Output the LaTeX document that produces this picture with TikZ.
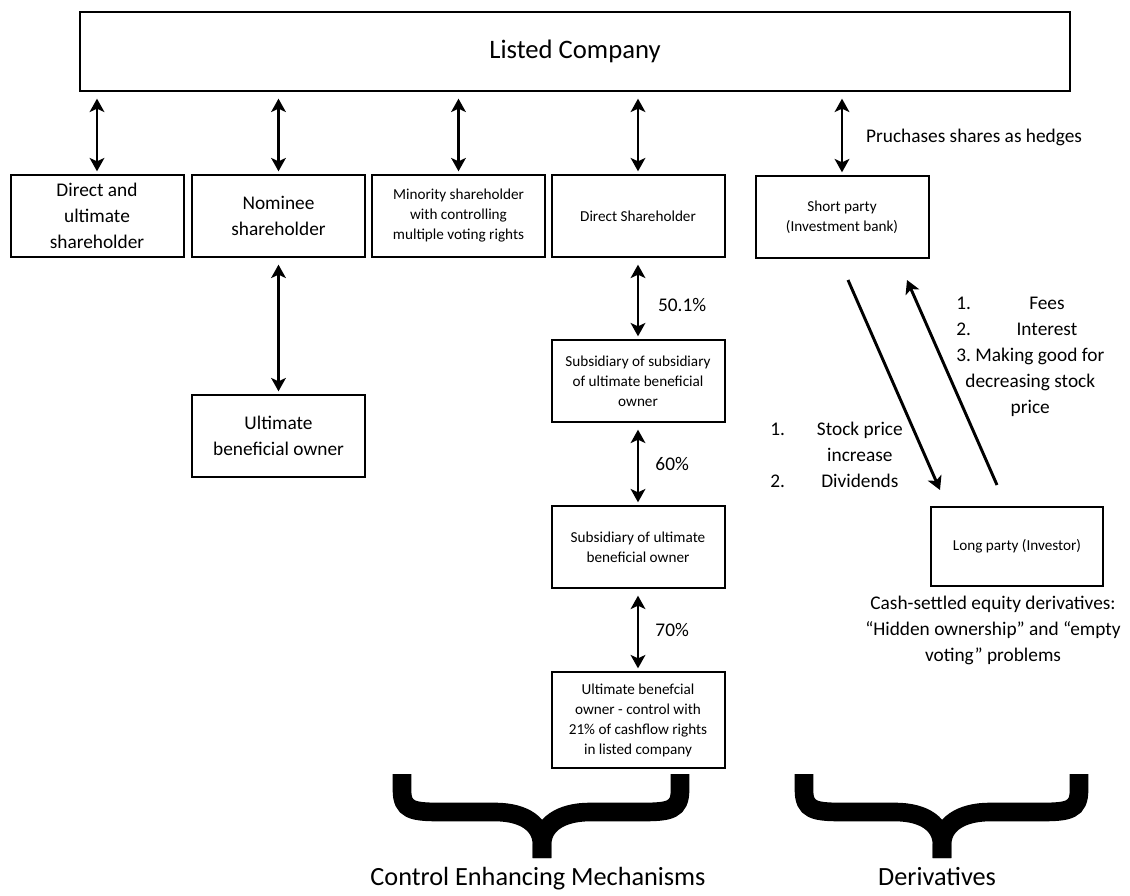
\documentclass[tikz,border=0pt]{standalone}
\usepackage{fontspec}
\setmainfont{Carlito}
\usetikzlibrary{arrows.meta, positioning, calc}

\begin{document}
\begin{tikzpicture}[x=0.75pt, y=-0.75pt,
    box/.style={draw, line width=1.5pt, align=center, inner sep=2pt, minimum width=129.75pt, minimum height=61.5pt},
    bigtxt/.style={font=\fontsize{14.5}{19.5}\selectfont},
    smalltxt/.style={font=\fontsize{11.4}{15}\selectfont},
    lbl/.style={inner sep=0pt, align=center, font=\fontsize{14.5}{19.5}\selectfont},
    dbl/.style={{Stealth[length=10pt, width=11pt, inset=2.5pt]}-{Stealth[length=10pt, width=11pt, inset=2.5pt]}, line width=2.2pt, shorten <=5pt, shorten >=2pt},
    sgl/.style={-{Stealth[length=10pt, width=11pt, inset=2.5pt]}, line width=2.2pt},
    brc/.style={line width=14pt}]

    \useasboundingbox (0,0) rectangle (1130,895);

    % Listed company on top
    \node[box, minimum width=742.5pt, minimum height=59.25pt, font=\fontsize{20}{24}\selectfont] (listed) at (575,51.5) {Listed Company};

    % Row of shareholders
    \node[box, bigtxt] (direct) at (97,216) {Direct and\\ultimate\\shareholder};
    \node[box, bigtxt] (nominee) at (278.5,216) {Nominee\\shareholder};
    \node[box, smalltxt] (minority) at (458.5,216) {Minority shareholder\\with controlling\\multiple voting rights};
    \node[box, smalltxt] (dirshare) at (638,216) {Direct Shareholder};
    \node[box, smalltxt] (short) at (842,217) {Short party\\(Investment bank)};

    % Nominee -> beneficial owner
    \node[box, bigtxt] (ubo) at (278.5,436) {Ultimate\\beneficial owner};

    % Chain of subsidiaries
    \node[box, smalltxt] (subsub) at (638,381) {Subsidiary of subsidiary\\of ultimate beneficial\\owner};
    \node[box, smalltxt] (sub) at (638,547) {Subsidiary of ultimate\\beneficial owner};
    \node[box, smalltxt, minimum height=72pt] (ultimate) at (638,720) {Ultimate benefcial\\owner - control with\\21\% of cashflow rights\\in listed company};

    % Long party of the derivative
    \node[box, smalltxt, minimum width=129pt, minimum height=59.25pt] (long) at (1017,546.5) {Long party (Investor)};

    % Arrows from listed company
    \draw[dbl] (listed.south -| direct.north) -- (direct.north);
    \draw[dbl] (listed.south -| nominee.north) -- (nominee.north);
    \draw[dbl] (listed.south -| minority.north) -- (minority.north);
    \draw[dbl] (listed.south -| dirshare.north) -- (dirshare.north);
    \draw[dbl] (listed.south -| short.north) -- node[lbl, pos=0.55, right=17pt] (hedge) {Pruchases shares as hedges} (short.north);

    \draw[dbl] (nominee.south) -- (ubo.north);

    % Percentages down the chain
    \draw[dbl] (dirshare.south) -- node[lbl, pos=0.58, right=14pt] (p501) {50.1\%} (subsub.north);
    \draw[dbl] (subsub.south) -- node[lbl, right=12pt] (p60) {60\%} (sub.north);
    \draw[dbl] (sub.south) -- node[lbl, right=12pt] (p70) {70\%} (ultimate.north);

    % Flows between short and long party
    \coordinate (payout) at (848,280);
    \coordinate (payin) at (940,490);
    \coordinate (feeout) at (997,485);
    \coordinate (feein) at (907,280);
    \draw[sgl] (payout) -- (payin);
    \draw[sgl] (feeout) -- (feein);

    \node[lbl, anchor=west] (fees) at (956,356) {\begin{tabular}{@{}l@{\hspace{14pt}}c@{}}
        1. & Fees\\
        2. & Interest\\
        \multicolumn{2}{@{}c@{}}{3.\ Making good for}\\
        \multicolumn{2}{@{}c@{}}{decreasing stock}\\
        \multicolumn{2}{@{}c@{}}{price}
    \end{tabular}};
    \node[lbl, anchor=west] (gains) at (770,456) {\begin{tabular}{@{}l@{\hspace{24pt}}c@{}}
        1. & Stock price\\
           & increase\\
        2. & Dividends
    \end{tabular}};

    \node[lbl] (cash) at (993,630) {Cash-settled equity derivatives:\\“Hidden ownership” and “empty\\voting” problems};

    % Braces at the bottom
    \draw[brc] (402,774) -- (402,790) .. controls (402,810) and (412,812) .. (440,812) -- (495,812) .. controls (525,812) and (542,825) .. (542,845) -- (542,858);
    \draw[brc] (680,774) -- (680,790) .. controls (680,810) and (670,812) .. (642,812) -- (590,812) .. controls (560,812) and (542,825) .. (542,845) -- (542,858);
    \draw[brc] (804,774) -- (804,790) .. controls (804,810) and (814,812) .. (842,812) -- (895,812) .. controls (925,812) and (942,825) .. (942,845) -- (942,858);
    \draw[brc] (1079,774) -- (1079,790) .. controls (1079,810) and (1069,812) .. (1041,812) -- (990,812) .. controls (960,812) and (942,825) .. (942,845) -- (942,858);

    \node[anchor=base, inner sep=0pt, font=\fontsize{19.7}{24}\selectfont] (cem) at (538,885) {Control Enhancing Mechanisms};
    \node[anchor=base, inner sep=0pt, font=\fontsize{19.7}{24}\selectfont] (deriv) at (937,885) {Derivatives};

\end{tikzpicture}
\end{document}
